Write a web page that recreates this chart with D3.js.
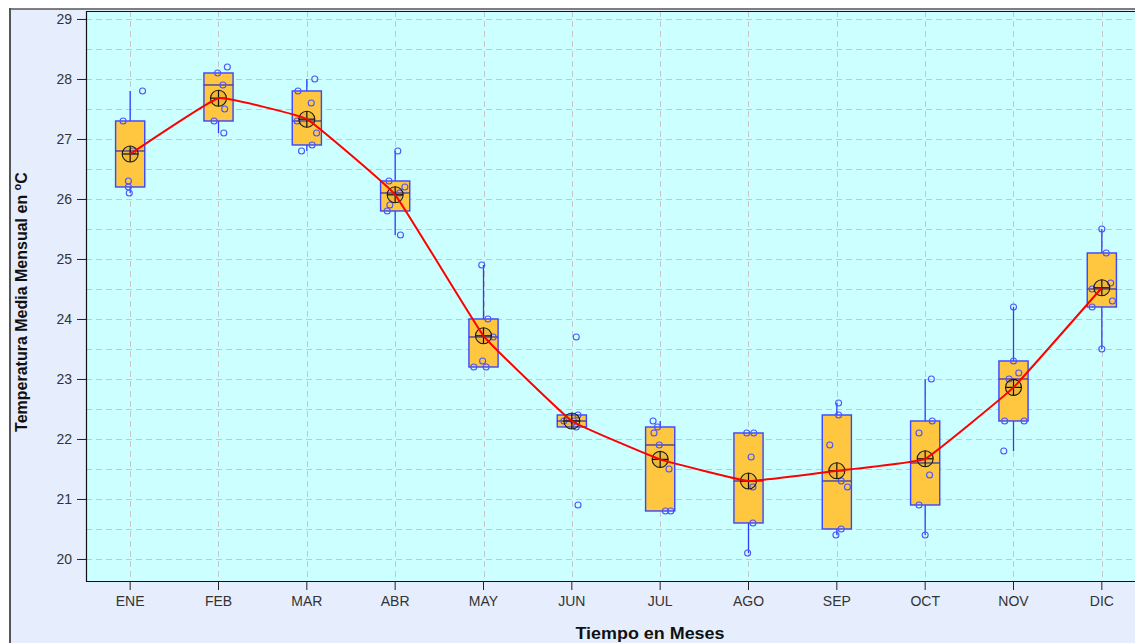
<!DOCTYPE html>
<html>
<head>
<meta charset="utf-8">
<script src="https://cdn.jsdelivr.net/npm/d3@7"></script>
<style>
  html, body { margin: 0; padding: 0; background: #ffffff; }
  svg { display: block; }
</style>
</head>
<body>
<svg id="chart" width="1135" height="643"></svg>
<script>
// ---------------- data ----------------
const months = ["ENE","FEB","MAR","ABR","MAY","JUN","JUL","AGO","SEP","OCT","NOV","DIC"];
const q1      = [26.2, 27.3, 26.9, 25.8, 23.2, 22.2, 20.8, 20.6, 20.5, 20.9, 22.3, 24.2];
const medians = [26.8, 27.9, 27.3, 26.1, 23.7, 22.3, 21.9, 21.3, 21.3, 21.6, 23.0, 24.5];
const q3      = [27.3, 28.1, 27.8, 26.3, 24.0, 22.4, 22.2, 22.1, 22.4, 22.3, 23.3, 25.1];
const whiskerLo = [26.1, 27.1, 26.8, 25.4, 23.2, 22.2, 20.8, 20.1, 20.4, 20.4, 21.8, 23.5];
const whiskerHi = [27.8, 28.1, 28.0, 26.8, 24.9, 22.4, 22.3, 22.1, 22.6, 23.0, 24.2, 25.5];
const means   = [26.75, 27.68, 27.33, 26.07, 23.72, 22.30, 21.66, 21.30, 21.47, 21.67, 22.86, 24.52];
const observations = [
  [27.8, 27.3, 26.8, 26.3, 26.2, 26.1],
  [28.2, 28.1, 27.9, 27.5, 27.3, 27.1],
  [28.0, 27.8, 27.6, 27.3, 27.1, 26.9, 26.8],
  [26.8, 26.3, 26.2, 26.1, 25.9, 25.8, 25.4],
  [24.9, 24.0, 23.7, 23.3, 23.2, 23.2],
  [23.7, 22.4, 22.3, 22.3, 22.2, 20.9],
  [22.3, 22.2, 22.1, 21.9, 21.5, 20.8, 20.8],
  [22.1, 22.1, 21.7, 21.2, 20.6, 20.1],
  [22.6, 22.4, 21.9, 21.3, 21.2, 20.5, 20.4],
  [23.0, 22.3, 22.1, 21.4, 20.9, 20.4],
  [24.2, 23.3, 23.1, 23.0, 22.3, 22.3, 21.8],
  [25.5, 25.1, 24.6, 24.5, 24.3, 24.2, 23.5]
];
// horizontal jitter of each observation, as a fraction of the month band
const jitter = [
  [0.14, -0.08, 0.03, -0.02, -0.02, -0.01],
  [0.10, -0.01, 0.05, 0.07, -0.05, 0.06],
  [0.09, -0.10, 0.05, -0.11, 0.11, 0.06, -0.06],
  [0.03, -0.07, 0.11, 0.05, -0.06, -0.09, 0.06],
  [-0.02, 0.05, 0.11, -0.01, -0.11, 0.03],
  [0.05, 0.07, -0.09, 0.02, 0.05, 0.07],
  [-0.08, -0.03, -0.07, -0.01, 0.10, 0.06, 0.12],
  [-0.02, 0.06, 0.03, 0.05, 0.05, -0.01],
  [0.02, 0.02, -0.08, 0.05, 0.12, 0.05, -0.01],
  [0.07, 0.08, -0.07, 0.05, -0.07, 0.00],
  [0.00, 0.00, 0.06, -0.05, -0.10, 0.12, -0.11],
  [0.00, 0.05, 0.10, -0.11, 0.12, -0.11, 0.00]
];
const yTicks = [20, 21, 22, 23, 24, 25, 26, 27, 28, 29];
const yGrid = [20, 20.5, 21, 21.5, 22, 22.5, 23, 23.5, 24, 24.5, 25, 25.5, 26, 26.5, 27, 27.5, 28, 28.5, 29];
const xTitle = "Tiempo en Meses";
const yTitle = "Temperatura Media Mensual en ";

// ---------------- layout ----------------
const svg = d3.select("#chart");
const W = 1135, H = 643;
const plot = { left: 86, top: 11, bottom: 581, right: 1146 };

const x = d3.scaleBand().domain(months).range([plot.left, plot.right]).padding(0);
const cx = m => x(m) + x.bandwidth() / 2;
const y = d3.scaleLinear().domain([19.633, 29.133]).range([plot.bottom, plot.top]);

// outer background
svg.append("rect").attr("x", 10).attr("y", 9).attr("width", W - 10).attr("height", H - 9)
  .attr("fill", "#e6eefd");
svg.append("line").attr("x1", 10).attr("x2", 10).attr("y1", 8).attr("y2", H)
  .attr("stroke", "#555").attr("stroke-width", 2);
svg.append("line").attr("x1", 9).attr("x2", W).attr("y1", 9).attr("y2", 9)
  .attr("stroke", "#555").attr("stroke-width", 1.5);

// plot background
svg.append("rect").attr("x", plot.left).attr("y", plot.top)
  .attr("width", plot.right - plot.left).attr("height", plot.bottom - plot.top)
  .attr("fill", "#ccffff");

const defs = svg.append("defs");
defs.append("clipPath").attr("id", "clip").append("rect")
  .attr("x", plot.left).attr("y", plot.top)
  .attr("width", plot.right - plot.left).attr("height", plot.bottom - plot.top);

const g = svg.append("g").attr("clip-path", "url(#clip)");

// grid
g.append("g").selectAll("line").data(yGrid).join("line")
  .attr("x1", plot.left).attr("x2", plot.right)
  .attr("y1", d => Math.round(y(d)) + 0.5).attr("y2", d => Math.round(y(d)) + 0.5)
  .attr("stroke", "#c4c8c8").attr("stroke-width", 1).attr("stroke-dasharray", "6,4");
g.append("g").selectAll("line").data(months).join("line")
  .attr("x1", d => Math.round(cx(d)) + 0.5).attr("x2", d => Math.round(cx(d)) + 0.5)
  .attr("y1", plot.top).attr("y2", plot.bottom)
  .attr("stroke", "#c4c8c8").attr("stroke-width", 1).attr("stroke-dasharray", "6,4");

const boxW = x.bandwidth() * 0.33;
const idx = months.map((m, i) => i);

// whiskers
g.append("g").selectAll("line.up").data(idx).join("line")
  .attr("x1", i => cx(months[i])).attr("x2", i => cx(months[i]))
  .attr("y1", i => y(q3[i])).attr("y2", i => y(whiskerHi[i]))
  .attr("stroke", "#2f3cff").attr("stroke-width", 1.3);
g.append("g").selectAll("line.dn").data(idx).join("line")
  .attr("x1", i => cx(months[i])).attr("x2", i => cx(months[i]))
  .attr("y1", i => y(q1[i])).attr("y2", i => y(whiskerLo[i]))
  .attr("stroke", "#2f3cff").attr("stroke-width", 1.3);

// boxes
g.append("g").selectAll("rect").data(idx).join("rect")
  .attr("x", i => cx(months[i]) - boxW / 2)
  .attr("y", i => y(q3[i]))
  .attr("width", boxW)
  .attr("height", i => y(q1[i]) - y(q3[i]))
  .attr("fill", "#ffc73f").attr("stroke", "#3b44ff").attr("stroke-width", 1.4);

// medians
g.append("g").selectAll("line").data(idx).join("line")
  .attr("x1", i => cx(months[i]) - boxW / 2).attr("x2", i => cx(months[i]) + boxW / 2)
  .attr("y1", i => y(medians[i])).attr("y2", i => y(medians[i]))
  .attr("stroke", "#3a35a8").attr("stroke-width", 1.3);

// observations
const pts = [];
observations.forEach((arr, i) => arr.forEach((v, j) => pts.push({ m: months[i], v, j: jitter[i][j] })));
g.append("g").selectAll("circle").data(pts).join("circle")
  .attr("cx", d => cx(d.m) + d.j * x.bandwidth())
  .attr("cy", d => y(d.v))
  .attr("r", 3)
  .attr("fill", "none").attr("stroke", "#4a55ff").attr("stroke-width", 1.1);

// mean markers
const mk = g.append("g").selectAll("g").data(idx).join("g")
  .attr("transform", i => `translate(${cx(months[i])},${y(means[i])})`);
mk.append("circle").attr("r", 8).attr("fill", "rgba(150,110,0,0.15)")
  .attr("stroke", "#1a1a1a").attr("stroke-width", 1.1);
mk.append("line").attr("x1", -8).attr("x2", 8).attr("y1", 0).attr("y2", 0)
  .attr("stroke", "#111").attr("stroke-width", 1.2);
mk.append("line").attr("x1", 0).attr("x2", 0).attr("y1", -8).attr("y2", 8)
  .attr("stroke", "#111").attr("stroke-width", 1.2);

// mean line
const line = d3.line().x(i => cx(months[i])).y(i => y(means[i])).curve(d3.curveCardinal.tension(0.75));
g.append("path").datum(idx).attr("d", line)
  .attr("fill", "none").attr("stroke", "#ff0000").attr("stroke-width", 2);

// plot border
svg.append("path")
  .attr("d", `M${W},${plot.top + 0.5}H${plot.left + 0.5}V${plot.bottom + 0.5}H${W}`)
  .attr("fill", "none").attr("stroke", "#111").attr("stroke-width", 1.2);

// y axis
const yAxis = d3.axisLeft(y).tickValues(yTicks).tickSize(9).tickPadding(5).tickFormat(d3.format("d"));
const ya = svg.append("g").attr("transform", `translate(${plot.left},0)`).call(yAxis);
ya.select(".domain").remove();
ya.selectAll(".tick line").attr("stroke", "#222");
ya.selectAll(".tick text").attr("font-family", "Arial, 'Liberation Sans', sans-serif")
  .attr("font-size", 14).attr("fill", "#333");

// x axis
const xAxis = d3.axisBottom(x).tickSize(9).tickPadding(6);
const xa = svg.append("g").attr("transform", `translate(0,${plot.bottom})`).call(xAxis);
xa.select(".domain").remove();
xa.selectAll(".tick line").attr("stroke", "#222");
xa.selectAll(".tick text").attr("font-family", "Arial, 'Liberation Sans', sans-serif")
  .attr("font-size", 14).attr("fill", "#333");

// titles
svg.append("text").attr("x", 650).attr("y", 639)
  .attr("text-anchor", "middle")
  .attr("font-family", "Arial, 'Liberation Sans', sans-serif")
  .attr("font-weight", "bold").attr("font-size", 16).attr("fill", "#111")
  .attr("textLength", 149).attr("lengthAdjust", "spacingAndGlyphs")
  .text(xTitle);

const yt = svg.append("text")
  .attr("transform", "translate(27,302) rotate(-90)")
  .attr("text-anchor", "middle")
  .attr("font-family", "Arial, 'Liberation Sans', sans-serif")
  .attr("font-weight", "bold").attr("font-size", 16).attr("fill", "#111");
yt.append("tspan").text(yTitle);
yt.append("tspan").attr("font-size", 11).attr("dy", -6).text("o");
yt.append("tspan").attr("dy", 6).text("C");
</script>
</body>
</html>
